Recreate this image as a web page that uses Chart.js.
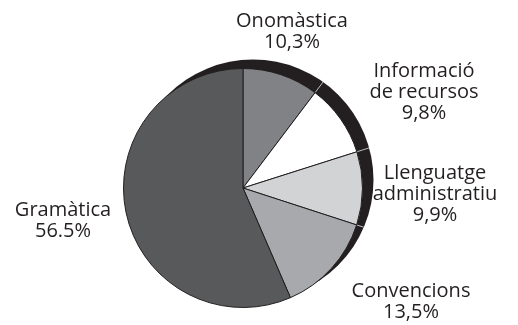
<!DOCTYPE html>
<html>
<head>
<meta charset="utf-8">
<script src="https://cdn.jsdelivr.net/npm/chart.js@4/dist/chart.umd.min.js"></script>
<style>
  html, body { margin: 0; padding: 0; background: #fff; overflow: hidden; }
  canvas { display: block; }
</style>
</head>
<body>
<canvas id="pie" width="518" height="325"></canvas>
<script>
// Slice data, clockwise from 12 o'clock
const categories = ['Onomàstica', 'Informació de recursos', 'Llenguatge administratiu', 'Convencions', 'Gramàtica'];
const shares = [10.3, 9.8, 9.9, 13.5, 56.5];
const shareText = ['10,3%', '9,8%', '9,9%', '13,5%', '56.5%'];

// Label lines and where each text block sits (centre x, first line middle y)
const labelLines = [
  ['Onomàstica'],
  ['Informació', 'de recursos'],
  ['Llenguatge', 'administratiu'],
  ['Convencions'],
  ['Gramàtica']
];
const labelAt = [[292, 21], [424, 71], [435, 173], [411, 291], [63, 210]];

const sliceColors = ['#808285', '#ffffff', '#d1d3d4', '#a7a9ac', '#58595b'];
const ink = '#231f20';

// dark side of the disc, peeking out to the upper right
const rimPlugin = {
  id: 'rim',
  beforeDatasetsDraw(chart) {
    const arcs = chart.getDatasetMeta(0).data;
    const { x, y, outerRadius } = arcs[0];
    const rx = x + 10, ry = y - 8, rr = outerRadius + 1;
    const ctx = chart.ctx;
    ctx.save();
    ctx.fillStyle = ink;
    ctx.beginPath();
    ctx.arc(rx, ry, rr, 0, Math.PI * 2);
    ctx.fill();
    ctx.clip();
    // faint seams across the rim at slice boundaries
    ctx.strokeStyle = '#bcbec0';
    ctx.lineWidth = 1;
    arcs.slice(0, 3).forEach(a => {
      const ang = a.endAngle;
      ctx.beginPath();
      ctx.moveTo(x + Math.cos(ang) * outerRadius, y + Math.sin(ang) * outerRadius);
      ctx.lineTo(x + Math.cos(ang) * (outerRadius + 20), y + Math.sin(ang) * (outerRadius + 20));
      ctx.stroke();
    });
    ctx.restore();
  }
};

const labelPlugin = {
  id: 'sliceLabels',
  afterDraw(chart) {
    const ctx = chart.ctx;
    ctx.save();
    ctx.fillStyle = ink;
    ctx.font = '20px "Open Sans", sans-serif';
    ctx.textAlign = 'center';
    ctx.textBaseline = 'middle';
    const lh = 21;
    labelLines.forEach((lines, i) => {
      const [lx, ly] = labelAt[i];
      const all = lines.concat([shareText[i]]);
      all.forEach((t, k) => ctx.fillText(t, lx, ly + k * lh));
    });
    ctx.restore();
  }
};

new Chart(document.getElementById('pie'), {
  type: 'pie',
  data: {
    labels: categories,
    datasets: [{
      data: shares,
      backgroundColor: sliceColors,
      borderColor: ink,
      borderWidth: 1
    }]
  },
  options: {
    responsive: false,
    animation: false,
    layout: { padding: { left: 123, right: 155, top: 68, bottom: 17 } },
    plugins: {
      legend: { display: false },
      tooltip: { enabled: false }
    }
  },
  plugins: [rimPlugin, labelPlugin]
});
</script>
</body>
</html>
